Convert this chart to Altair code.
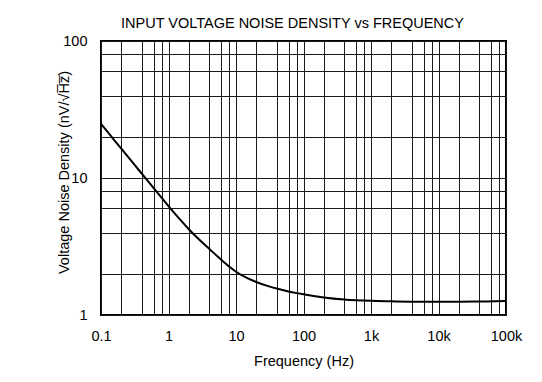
import altair as alt
import pandas as pd

# Curve (Hz, nV/sqrt(Hz))
freq = [0.1, 0.14, 0.2, 0.3, 0.45, 0.6, 0.8, 1.0, 1.5, 2, 3, 4, 6, 8, 10,
        15, 20, 30, 40, 60, 80, 100, 200, 400, 1000, 2000, 4000, 10000,
        20000, 50000, 100000]
noise = [24.8, 20.26, 16.36, 12.82, 10.06, 8.46, 7.12, 6.23, 4.94, 4.23,
         3.47, 3.05, 2.54, 2.25, 2.07, 1.85, 1.74, 1.625, 1.56, 1.486, 1.444,
         1.415, 1.344, 1.298, 1.268, 1.258, 1.25, 1.247, 1.25, 1.257, 1.264]

x_major = [0.1, 1, 10, 100, 1000, 10000, 100000]
x_major_labels = ["0.1", "1", "10", "100", "1k", "10k", "100k"]
y_major = [1, 10, 100]
y_major_labels = ["1", "10", "100"]
minor_mult = [2, 4, 6, 8]

title_text = "INPUT VOLTAGE NOISE DENSITY vs FREQUENCY"
x_title = "Frequency (Hz)"
y_title = "Voltage Noise Density (nV/\u221aH\u0305z\u0305)"

x_grid = sorted(set(x_major + [m * d for d in x_major[:-1] for m in minor_mult]))
y_grid = sorted(set(y_major + [m * d for d in y_major[:-1] for m in minor_mult]))


def label_expr(vals, labs):
    parts = [f"datum.value == {v} ? '{l}'" for v, l in zip(vals, labs)]
    return " : ".join(parts) + " : ''"


df = pd.DataFrame({"f": freq, "n": noise})
FONT = "Liberation Sans"

chart = (
    alt.Chart(df)
    .mark_line(color="black", strokeWidth=2, interpolate="monotone")
    .encode(
        x=alt.X(
            "f:Q",
            scale=alt.Scale(type="log", domain=[0.1, 100000], nice=False),
            axis=alt.Axis(
                values=x_grid,
                labelExpr=label_expr(x_major, x_major_labels),
                labelOverlap=False,
                labelFlush=False,
                labelPadding=14,
                title=x_title,
                titleY=46,
                titleBaseline="middle",
            ),
        ),
        y=alt.Y(
            "n:Q",
            scale=alt.Scale(type="log", domain=[1, 100], nice=False),
            axis=alt.Axis(
                values=y_grid,
                labelExpr=label_expr(y_major, y_major_labels),
                labelOverlap=False,
                labelFlush=False,
                labelPadding=14,
                title=y_title,
                titleX=-37,
                titleY=131,
                titleBaseline="middle",
                titleAlign="center",
                titleAngle=270,
            ),
        ),
    )
    .properties(
        width=405,
        height=274,
        autosize="none",
        padding={"left": 93, "top": 33, "right": 28, "bottom": 64},
        title=alt.TitleParams(
            text=title_text,
            font=FONT,
            fontSize=14.5,
            fontWeight="normal",
            color="black",
            anchor="middle",
            frame="group",
            dx=-11,
            dy=22,
            offset=13,
            baseline="alphabetic",
        ),
    )
    .configure_axis(
        labelFont=FONT,
        labelFontSize=14.5,
        labelColor="black",
        titleFont=FONT,
        titleFontSize=14.5,
        titleFontWeight="normal",
        titleColor="black",
        gridColor="#1a1a1a",
        gridOpacity=1,
        gridWidth=1,
        domain=False,
        ticks=False,
    )
    .configure_view(stroke="black", strokeWidth=2)
)

chart.save("out.html", embed_options={"renderer": "svg", "actions": False})
